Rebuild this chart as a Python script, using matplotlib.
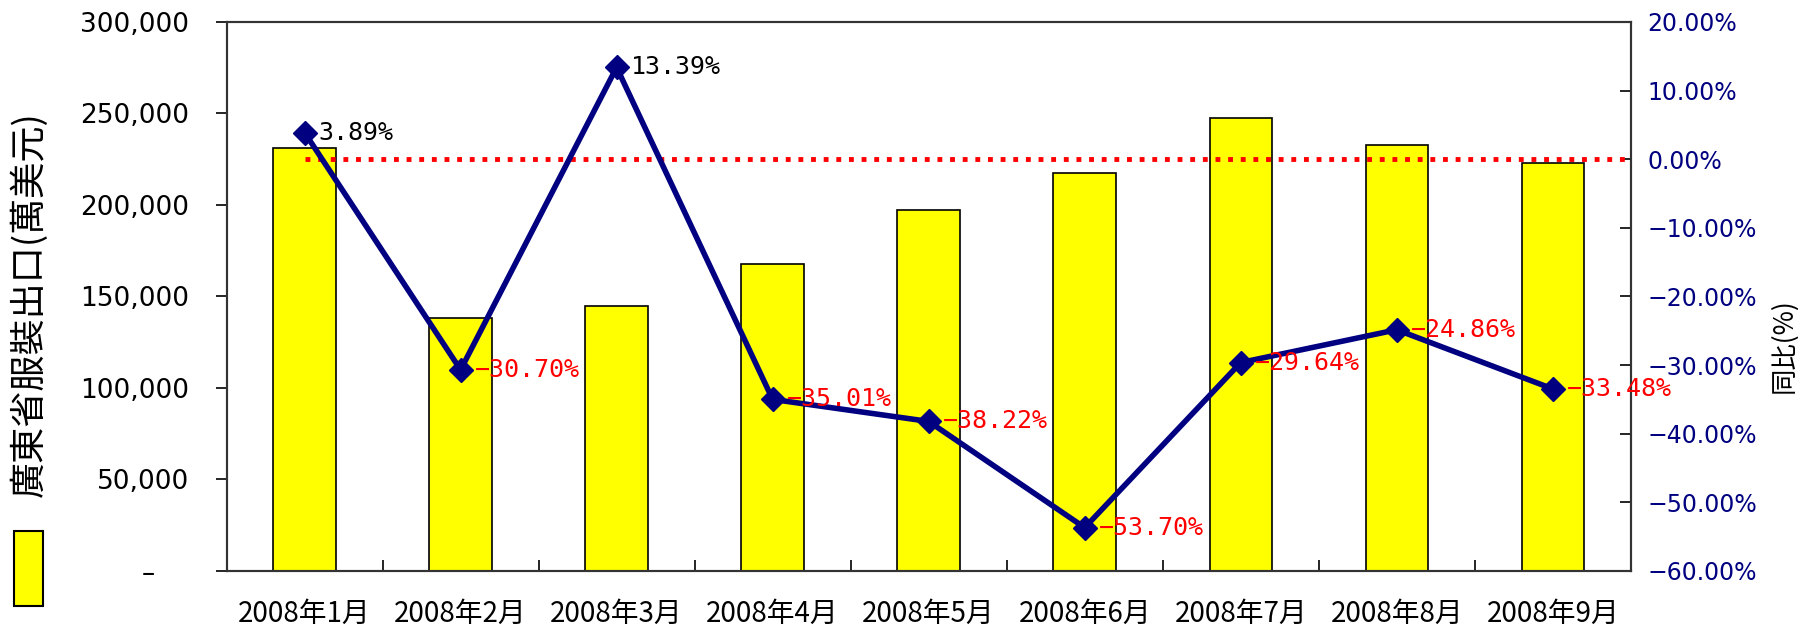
"""Guangdong garment exports 2008 Jan-Sep: bars with YoY line."""
import matplotlib
matplotlib.use("Agg")
import matplotlib.pyplot as plt
from matplotlib.patches import Rectangle
from matplotlib.ticker import FuncFormatter, MultipleLocator, FixedLocator

plt.rcParams['font.family'] = ['Noto Sans CJK JP', 'DejaVu Sans']

months = ["2008年1月", "2008年2月", "2008年3月", "2008年4月", "2008年5月",
          "2008年6月", "2008年7月", "2008年8月", "2008年9月"]
exports = [231000, 138000, 145000, 167500, 197500, 217500, 247500, 233000, 223000]
yoy = [3.89, -30.70, 13.39, -35.01, -38.22, -53.70, -29.64, -24.86, -33.48]

NAVY = "#000080"
x = list(range(len(months)))

fig = plt.figure(figsize=(17.98, 6.28), dpi=100)
ax = fig.add_axes([0.126, 0.091, 0.781, 0.874])
ax2 = ax.twinx()

# ---------- bars ----------
ax.bar(x, exports, width=0.4, color="#FFFF00", edgecolor="black", linewidth=1.2, zorder=2)
ax.set_xlim(-0.5, len(months) - 0.5)
ax.set_ylim(0, 300000)
ax.yaxis.set_major_locator(MultipleLocator(50000))
ax.yaxis.set_major_formatter(FuncFormatter(lambda v, p: "\u2013    " if v == 0 else f"{v:,.0f}"))
ax.tick_params(axis='y', direction='out', length=8, width=1.2, labelsize=19, pad=19)
for lab in ax.get_yticklabels():
    lab.set_family('DejaVu Sans')

ax.set_xticks(x)
ax.set_xticklabels(months, fontsize=20)
ax.xaxis.set_minor_locator(FixedLocator([i + 0.5 for i in x[:-1]]))
ax.tick_params(axis='x', which='major', length=0, pad=20)
ax.tick_params(axis='x', which='minor', direction='in', length=8, width=1.2)

for sp in ax.spines.values():
    sp.set_linewidth(1.5)
    sp.set_color("#333333")
for sp in ax2.spines.values():
    sp.set_linewidth(1.5)
    sp.set_color("#333333")

# ---------- YoY line ----------
ax2.set_ylim(-60, 20)
ax2.yaxis.set_major_locator(MultipleLocator(10))
ax2.yaxis.set_major_formatter(FuncFormatter(lambda v, p: f"{v:.2f}%".replace("-", "\u2212")))
ax2.tick_params(axis='y', direction='in', length=8, width=1.2, labelsize=17,
                labelcolor=NAVY, pad=12)
for lab in ax2.get_yticklabels():
    lab.set_family('DejaVu Sans')

ax2.hlines(0, x[0], x[-1] + 0.48, colors="red", linestyles=(0, (1, 1.6)),
           linewidth=3.5, zorder=2)
ax2.plot(x, yoy, color=NAVY, linewidth=4, marker='D', markersize=12, zorder=3)
for xi, v in zip(x, yoy):
    ax2.annotate(f"{v:.2f}%".replace("-", "\u2212"), (xi, v), xytext=(10, 0),
                 textcoords='offset points', ha='left', va='center', fontsize=18,
                 family='DejaVu Sans Mono', color='black' if v >= 0 else 'red', zorder=4)

# ---------- axis titles / legend key ----------
fig.text(0.016, 0.515, "廣東省服裝出口(萬美元)", rotation=90, ha='center', va='center',
         fontsize=26)
fig.text(0.992, 0.45, "同比(%)", rotation=90, ha='center', va='center', fontsize=19)
fig.patches.append(Rectangle((0.008, 0.035), 0.016, 0.12, transform=fig.transFigure,
                             facecolor="#FFFF00", edgecolor="black", linewidth=1.5))

fig.savefig("out.png", dpi=100)
